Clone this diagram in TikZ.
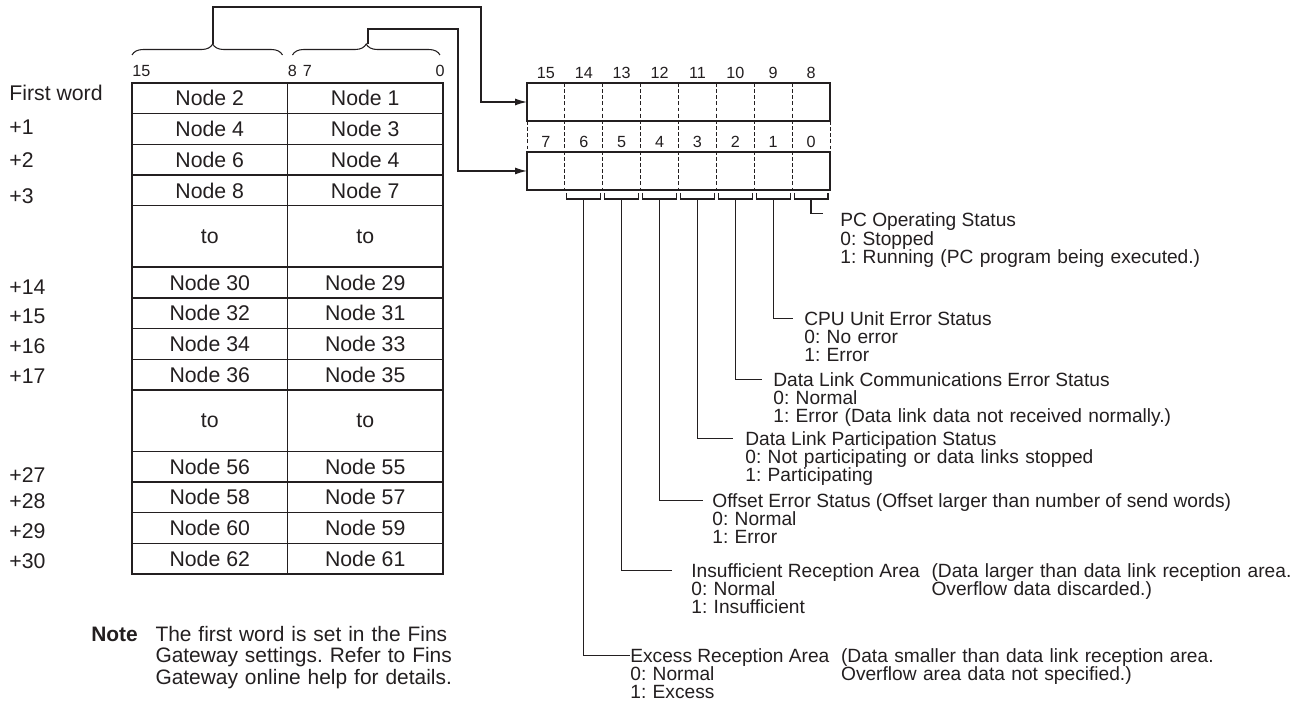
\documentclass[tikz,border=0pt]{standalone}
\usepackage{fontspec}
\setmainfont{Liberation Sans}
\usepackage{xcolor}
\usepackage{tikz}
\usetikzlibrary{arrows.meta, positioning, calc, decorations.pathreplacing}
\definecolor{ink}{HTML}{231F20}
\frenchspacing

\begin{document}
\begin{tikzpicture}[
    x=0.02cm, y=-0.02cm, color=ink,
    node distance=0pt,
    cell/.style={rectangle, draw, line width=0.8pt, minimum width=3.11cm, minimum height=0.614cm, inner sep=0pt, outer sep=0pt, font=\fontsize{12.1}{14}\selectfont},
    tocell/.style={cell, minimum height=1.228cm},
    regbox/.style={rectangle, draw, line width=0.8pt, minimum width=6.06cm, minimum height=0.76cm, inner sep=0pt, outer sep=0pt},
    bitnum/.style={anchor=base, inner sep=0pt, font=\fontsize{9.2}{10}\selectfont},
    wordlbl/.style={anchor=west, inner sep=0pt, font=\fontsize{12.1}{14}\selectfont},
    stattitle/.style={anchor=base west, inner sep=0pt, text height=0.27cm, text depth=0pt, font=\fontsize{10.9}{10.5}\selectfont},
    statvals/.style={anchor=base west, inner sep=0pt, text width=12cm, align=left, font=\fontsize{10.9}{10.5}\selectfont},
    notetext/.style={anchor=base west, inner sep=0pt, text width=9cm, align=left, font=\fontsize{11.9}{12.5}\selectfont},
    arrow/.style={line width=0.7pt, -{Latex[length=0.24cm, width=0.14cm]}},
    leader/.style={line width=0.7pt},
    bracket/.style={line width=0.6pt},
    divider/.style={line width=0.5pt, dash pattern=on 2.2pt off 1.3pt},
    brace/.style={line width=0.6pt, decorate, decoration={brace, amplitude=0.22cm}}
]
\fill[white] (0,0) rectangle (1300,702);
\useasboundingbox (0,0) rectangle (1300,702);

% Word table: high byte | low byte
\node[cell] (hi0) at (209.75,98.35) {Node 2};
\node[cell, right=of hi0] (lo0) {Node 1};
\node[cell, below=of hi0] (hi1) {Node 4};
\node[cell, right=of hi1] (lo1) {Node 3};
\node[cell, below=of hi1] (hi2) {Node 6};
\node[cell, right=of hi2] (lo2) {Node 4};
\node[cell, below=of hi2] (hi3) {Node 8};
\node[cell, right=of hi3] (lo3) {Node 7};
\node[tocell, below=of hi3] (hito1) {to};
\node[tocell, right=of hito1] (loto1) {to};
\node[cell, below=of hito1] (hi14) {Node 30};
\node[cell, right=of hi14] (lo14) {Node 29};
\node[cell, below=of hi14] (hi15) {Node 32};
\node[cell, right=of hi15] (lo15) {Node 31};
\node[cell, below=of hi15] (hi16) {Node 34};
\node[cell, right=of hi16] (lo16) {Node 33};
\node[cell, below=of hi16] (hi17) {Node 36};
\node[cell, right=of hi17] (lo17) {Node 35};
\node[tocell, below=of hi17] (hito2) {to};
\node[tocell, right=of hito2] (loto2) {to};
\node[cell, below=of hito2] (hi27) {Node 56};
\node[cell, right=of hi27] (lo27) {Node 55};
\node[cell, below=of hi27] (hi28) {Node 58};
\node[cell, right=of hi28] (lo28) {Node 57};
\node[cell, below=of hi28] (hi29) {Node 60};
\node[cell, right=of hi29] (lo29) {Node 59};
\node[cell, below=of hi29] (hi30) {Node 62};
\node[cell, right=of hi30] (lo30) {Node 61};

% Word offsets
\coordinate (lx) at (9,0);
\foreach \row/\txt/\dy in {hi0/First word/-5, hi1/+1/-2, hi2/+2/0, hi3/+3/6, hi14/+14/5, hi15/+15/3, hi16/+16/2, hi17/+17/2, hi27/+27/8, hi28/+28/4, hi29/+29/3, hi30/+30/2}
  \node[wordlbl] (w\row) at ($(lx |- \row)+(0,\dy)$) {\txt};

% Bit numbers and braces over the table
\node[bitnum, anchor=base west] (t15) at ([yshift=0.14cm]hi0.north west) {15};
\node[bitnum, anchor=base west] (t8) at ([yshift=0.14cm]hi0.north east) {8};
\node[bitnum, anchor=base west] (t7) at ([xshift=0.3cm, yshift=0.14cm]lo0.north west) {7};
\node[bitnum, anchor=base east] (t0) at ([xshift=0.04cm, yshift=0.14cm]lo0.north east) {0};
\draw[brace, decoration={aspect=0.536}] ([yshift=0.56cm]hi0.north west) -- ([xshift=-0.1cm, yshift=0.56cm]hi0.north east);
\draw[brace] ([xshift=0.1cm, yshift=0.56cm]lo0.north west) -- ([xshift=-0.06cm, yshift=0.56cm]lo0.north east);
\coordinate (bhi) at (213,44);
\coordinate (blo) at (368,44);

% Status word
\node[regbox] (hibox) at (678.5,102) {};
\node[regbox, below=0.62cm of hibox] (lobox) {};
\foreach \k in {0,...,7} {
  \pgfmathsetmacro\bitpos{(\k+0.5)/8}
  \pgfmathtruncatemacro\hibit{15-\k}
  \pgfmathtruncatemacro\lobit{7-\k}
  \node[bitnum] (hb\hibit) at ($(hibox.north west)!\bitpos!(hibox.north east)+(0,-4)$) {\hibit};
  \node[bitnum] (lb\lobit) at ($(lobox.north west)!\bitpos!(lobox.north east)+(0,-4)$) {\lobit};
}
\foreach \k in {1,...,7} {
  \pgfmathsetmacro\divpos{\k/8}
  \draw[divider] ($(hibox.north west)!\divpos!(hibox.north east)$) -- ($(lobox.south west)!\divpos!(lobox.south east)$);
}
\draw[divider] (hibox.south west) -- (lobox.north west);
\draw[divider] (hibox.south east) -- (lobox.north east);

% Brackets under bits 6..0
\foreach \k in {1,...,7} {
  \pgfmathsetmacro\lpos{\k/8}
  \pgfmathsetmacro\rpos{(\k+1)/8}
  \pgfmathsetmacro\mpos{(\k+0.5)/8}
  \pgfmathtruncatemacro\lobit{7-\k}
  \draw[bracket] ($(lobox.south west)!\lpos!(lobox.south east)+(2,3)$) |- ($(lobox.south west)!\rpos!(lobox.south east)+(-2,9)$) -- ++(0,-6);
  \coordinate (tick\lobit) at ($(lobox.south west)!\mpos!(lobox.south east)+(0,9)$);
}

% Byte connectors
\coordinate (hiturn) at (481,7);
\coordinate (loturn) at (458,29);
\draw[arrow] (bhi) |- (hiturn) |- (hibox.west);
\draw[arrow] (blo) |- (loturn) |- (lobox.west);

% Status bit descriptions
\node[stattitle] (pc) at (840,227) {PC Operating Status};
\node[statvals] (pcv) at ([yshift=-0.37cm]pc.base west) {0: Stopped\\1: Running (PC program being executed.)};
\node[stattitle] (cpu) at (804,325) {CPU Unit Error Status};
\node[statvals] (cpuv) at ([yshift=-0.37cm]cpu.base west) {0: No error\\1: Error};
\node[stattitle] (dlc) at (773,386) {Data Link Communications Error Status};
\node[statvals] (dlcv) at ([yshift=-0.37cm]dlc.base west) {0: Normal\\1: Error (Data link data not received normally.)};
\node[stattitle] (dlp) at (745,445) {Data Link Participation Status};
\node[statvals] (dlpv) at ([yshift=-0.37cm]dlp.base west) {0: Not participating or data links stopped\\1: Participating};
\node[stattitle] (ofs) at (712,507) {Offset Error Status (Offset larger than number of send words)};
\node[statvals] (ofsv) at ([yshift=-0.37cm]ofs.base west) {0: Normal\\1: Error};
\node[stattitle] (insuf) at (691,577) {Insufficient Reception Area};
\node[statvals] (insufv) at ([yshift=-0.37cm]insuf.base west) {0: Normal\\1: Insufficient};
\node[statvals] (insufn) at ([xshift=0.22cm]insuf.base east) {(Data larger than data link reception area.\\Overflow data discarded.)};
\node[stattitle] (excess) at (630,662) {Excess Reception Area};
\node[statvals] (excessv) at ([yshift=-0.37cm]excess.base west) {0: Normal\\1: Excess};
\node[statvals] (excessn) at ([xshift=0.22cm]excess.base east) {(Data smaller than data link reception area.\\Overflow area data not specified.)};

\draw[leader] (tick0) |- ([xshift=-0.34cm]pc.north west);
\draw[leader] (tick1) |- ([xshift=-0.22cm]cpu.west);
\draw[leader] (tick2) |- ([xshift=-0.22cm]dlc.west);
\draw[leader] (tick3) |- ([xshift=-0.24cm]dlp.west);
\draw[leader] (tick4) |- ([xshift=-0.18cm]ofs.west);
\draw[leader] (tick5) |- ([xshift=-0.38cm]insuf.west);
\draw[leader] (tick6) |- (excess.west);

% Note
\node[anchor=base west, inner sep=0pt, font=\fontsize{11.9}{12.5}\selectfont\bfseries] (note) at (91,641) {Note};
\node[notetext] (notebody) at ([xshift=0.34cm]note.base east) {The first word is set in the Fins\\Gateway settings. Refer to Fins\\Gateway online help for details.};
\end{tikzpicture}
\end{document}
